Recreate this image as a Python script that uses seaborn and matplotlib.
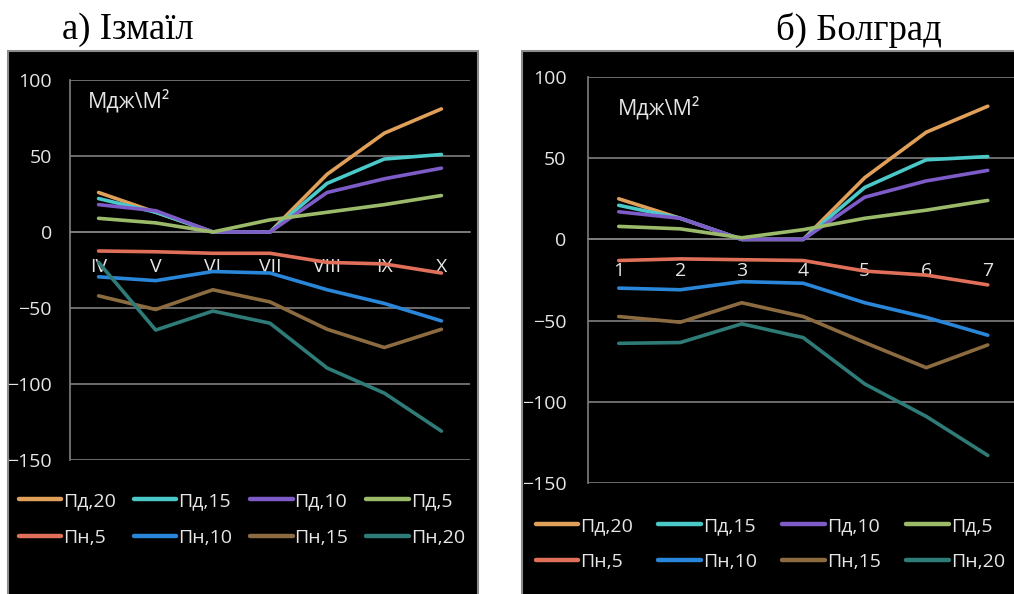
import pandas as pd
import matplotlib
matplotlib.use("Agg")
import matplotlib.pyplot as plt
import seaborn as sns
from matplotlib.patches import Rectangle
from matplotlib.ticker import FixedLocator, FixedFormatter

# %% DATA

series = ["Пд,20", "Пд,15", "Пд,10", "Пд,5", "Пн,5", "Пн,10", "Пн,15", "Пн,20"]
colors = ["#E0A05A", "#4BC8C8", "#7E5CC8", "#9BBB6A",
          "#E0705A", "#2A86D8", "#8C6B40", "#2E7B78"]

months_izm = ["IV", "V", "VI", "VII", "VIII", "IX", "X"]
months_bol = ["1", "2", "3", "4", "5", "6", "7"]

# Ізмаїл
izm_pd20 = [26, 13, 0, 0, 38, 65, 81]
izm_pd15 = [22, 13, 0, 0, 32, 48, 51]
izm_pd10 = [18, 14, 0, 0, 26, 35, 42]
izm_pd5 = [9, 6, 0, 8, 13, 18, 24]
izm_pn5 = [-12.5, -13, -14, -14, -20, -21, -27]
izm_pn10 = [-29.5, -32, -26, -27, -38, -47, -58.5]
izm_pn15 = [-42, -51, -38, -46, -64, -76, -64]
izm_pn20 = [-20, -64.5, -52, -60, -89.5, -106, -131]

# Болград
bol_pd20 = [25, 13, 0, 0, 38, 66, 82]
bol_pd15 = [21, 13, 0, 0, 32, 49, 51]
bol_pd10 = [17, 13, 0, 0, 26, 36, 42.5]
bol_pd5 = [8, 6.5, 1, 6, 13, 18, 24]
bol_pn5 = [-13, -12, -12.5, -13, -19.5, -22, -28]
bol_pn10 = [-30, -31, -26, -27, -39, -48, -59]
bol_pn15 = [-47.5, -51, -39, -47.5, -63.5, -79, -65]
bol_pn20 = [-64, -63.5, -52, -60.5, -89, -109, -133]

yticks = [-150, -100, -50, 0, 50, 100]


def long_table(months, values):
    rows = []
    for name, vals in zip(series, values):
        for i, v in enumerate(vals):
            rows.append({"x": i, "month": months[i], "value": v, "series": name})
    return pd.DataFrame(rows)


veri_izm = long_table(months_izm, [izm_pd20, izm_pd15, izm_pd10, izm_pd5,
                                   izm_pn5, izm_pn10, izm_pn15, izm_pn20])
veri_bol = long_table(months_bol, [bol_pd20, bol_pd15, bol_pd10, bol_pd5,
                                   bol_pn5, bol_pn10, bol_pn15, bol_pn20])
palette = dict(zip(series, colors))

# %% FIGURE

sns.set_style("dark")
plt.rcParams["font.family"] = ["Open Sans", "DejaVu Sans"]
fig = plt.figure(figsize=(10.14, 5.94), dpi=100)
fig.patch.set_facecolor("white")

W, H = 1014, 594
grid_col = "#7F7F7F"
text_col = "#E6E6E6"


def px(x0, y0, x1, y1):
    # pixel box (top-left origin) -> figure fraction rect
    return [x0 / W, 1 - y1 / H, (x1 - x0) / W, (y1 - y0) / H]


def draw_panel(frame, axbox, data, months, title, title_x, unit_xy, lab_pad, y_pad, leg_anchor, leg_cols_gap):
    # black frame behind the chart
    fx0, fy0, fx1, fy1 = frame
    fig.patches.append(Rectangle((fx0 / W, 1 - fy1 / H), (fx1 - fx0) / W, (fy1 - fy0) / H,
                                 transform=fig.transFigure, facecolor="black",
                                 edgecolor="#8C8C8C", linewidth=1.5, zorder=-5))
    ax = fig.add_axes(px(*axbox))
    ax.set_facecolor("none")
    ax.patch.set_alpha(0)

    for yv in yticks:
        ax.axhline(yv, color=grid_col, lw=1.2, zorder=1)

    sns.lineplot(data=data, x="x", y="value", hue="series", palette=palette,
                 hue_order=series, lw=2.6, ax=ax, legend=True, zorder=3)

    ax.set_xlim(-0.5, len(months) - 0.5)
    ax.set_ylim(-150, 100)
    ax.set_xlabel("")
    ax.set_ylabel("")
    for s in ["top", "right"]:
        ax.spines[s].set_visible(False)
    ax.spines["left"].set_color(grid_col)
    ax.spines["left"].set_linewidth(1.2)
    ax.spines["bottom"].set_position(("data", 0))
    ax.spines["bottom"].set_color(grid_col)
    ax.spines["bottom"].set_linewidth(1.2)

    ax.set_yticks(yticks)
    ax.tick_params(axis="y", colors=grid_col, length=6, width=1.2, labelcolor=text_col,
                   labelsize=14, pad=y_pad)
    ax.xaxis.set_major_locator(FixedLocator([i - 0.5 for i in range(len(months) + 1)]))
    ax.xaxis.set_major_formatter(FixedFormatter([""] * (len(months) + 1)))
    ax.xaxis.set_minor_locator(FixedLocator(list(range(len(months)))))
    ax.xaxis.set_minor_formatter(FixedFormatter(months))
    ax.tick_params(axis="x", which="major", colors=grid_col, length=6, width=1.2, direction="out")
    ax.tick_params(axis="x", which="minor", length=0, labelcolor=text_col, labelsize=14, pad=lab_pad)
    ax.grid(False)

    ax.text(unit_xy[0], unit_xy[1], "Мдж\\М²", transform=ax.transAxes, color=text_col,
            fontsize=15.5, ha="left", va="center")

    handles, labels = ax.get_legend_handles_labels()
    ax.get_legend().remove()
    # legend fills columns first: reorder so rows read left to right
    order = [0, 4, 1, 5, 2, 6, 3, 7]
    leg = fig.legend([handles[i] for i in order], [labels[i] for i in order],
                     loc="center left", bbox_to_anchor=leg_anchor,
                     ncol=4, frameon=False, fontsize=14, handlelength=2.2,
                     handletextpad=0.1, columnspacing=leg_cols_gap, labelspacing=0.95)
    for t in leg.get_texts():
        t.set_color(text_col)
    for l in leg.get_lines():
        l.set_linewidth(3.2)

    fig.text(title_x / W, 1 - 30 / H, title, fontsize=26.5, family="Liberation Serif",
             ha="left", va="center", color="black")
    return ax


draw_panel((8, 51, 478, 600), (70, 80, 470, 460), veri_izm, months_izm,
           "а) Ізмаїл", 62, (0.045, 0.945), 18.5, 7, (1 / W, 1 - 519.5 / H), 0.9)
draw_panel((522, 51, 1020, 600), (588, 77, 1018.5, 483), veri_bol, months_bol,
           "б) Болград", 776, (0.07, 0.925), 16, 9.5, (518 / W, 1 - 544 / H), 1.3)

fig.savefig("out.png", dpi=100, facecolor="white")
